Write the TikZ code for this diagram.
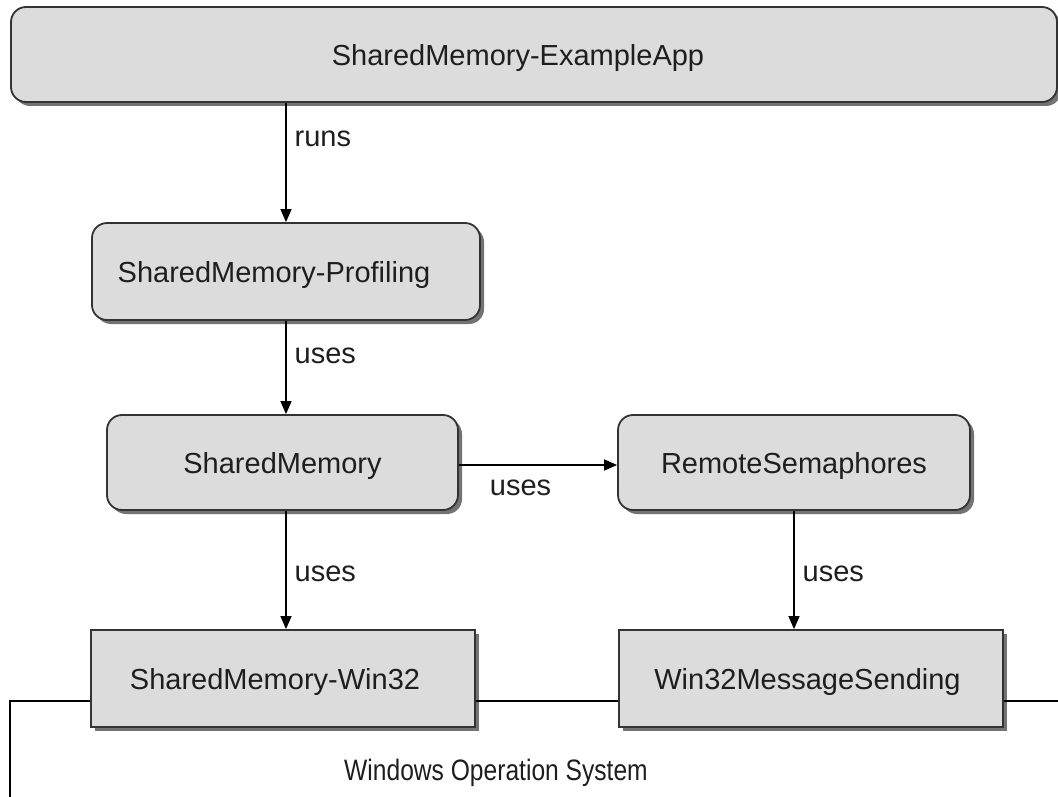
\documentclass[tikz,border=0pt]{standalone}
\usepackage{fontspec}
\usepackage{graphicx}
\setmainfont{Liberation Sans}
\usetikzlibrary{shadows,arrows.meta,calc}
\definecolor{boxfill}{HTML}{DCDCDC}
\definecolor{boxline}{HTML}{333333}
\definecolor{txt}{HTML}{1E1E1E}
\tikzset{
  box/.style={draw=boxline, line width=1.8pt, fill=boxfill, text=txt,
    font=\fontsize{29}{32}\selectfont, inner sep=0pt, text depth=0pt,
    drop shadow={shadow xshift=4pt, shadow yshift=-4pt, fill=black!55, opacity=1}},
  rbox/.style={box, rounded corners=15pt},
  arr/.style={line width=1.4pt, draw=black, -{Triangle[length=13pt,width=11pt]}},
  lbl/.style={text=txt, font=\fontsize{29}{32}\selectfont, inner sep=0pt},
  oslbl/.style={text=txt, font=\fontsize{24.6}{28}\selectfont, inner sep=0pt},
  osline/.style={line width=1.4pt, draw=black}
}
\begin{document}
\begin{tikzpicture}[x=1pt,y=-1pt]
\useasboundingbox (0,0) rectangle (1058,797);
\clip (0,0) rectangle (1058,797);
\node[rbox, minimum width=1046pt, minimum height=95pt] (app) at (534,54.5) {\hspace*{-32pt}SharedMemory-ExampleApp};
\node[rbox, minimum width=388pt, minimum height=97pt] (prof) at (286,271.5) {\hspace*{-24pt}SharedMemory-Profiling};
\node[rbox, minimum width=351pt, minimum height=95pt] (sm) at (282.5,462.5) {SharedMemory};
\node[rbox, minimum width=352pt, minimum height=95pt] (rs) at (794,462.5) {RemoteSemaphores};
\node[box, minimum width=384pt, minimum height=97pt] (win) at (283,678.5) {\hspace*{-16pt}SharedMemory-Win32};
\node[box, minimum width=384pt, minimum height=97pt] (msg) at (811,678.5) {\hspace*{-7pt}Win32MessageSending};
\coordinate (os) at (10,701);
\coordinate (osdown) at (10,820);
\coordinate (osright) at (1080,701);
\draw[osline] (win.west |- os) -- (os) -- (osdown);
\draw[osline] (win.east |- os) -- (msg.west |- os);
\draw[osline] (msg.east |- os) -- (osright);
\node[oslbl] (osname) at (496,773) {\scalebox{1}[1.2]{Windows Operation System}};
\coordinate (hstart) at ($(sm.east)+(0,2.5)$);
\draw[arr] (prof.north |- app.south) -- node[lbl, pos=0.3, right=8pt] {runs} (prof.north);
\draw[arr] (prof.south) -- node[lbl, pos=0.37, right=8pt] {uses} (prof.south |- sm.north);
\draw[arr] (hstart) -- node[lbl, pos=0.39, below=14pt] {uses} (rs.west |- hstart);
\draw[arr] (prof.south |- sm.south) -- node[lbl, pos=0.53, right=8pt] {uses} (prof.south |- win.north);
\draw[arr] (rs.south) -- node[lbl, pos=0.53, right=8pt] {uses} (rs.south |- msg.north);
\end{tikzpicture}
\end{document}
